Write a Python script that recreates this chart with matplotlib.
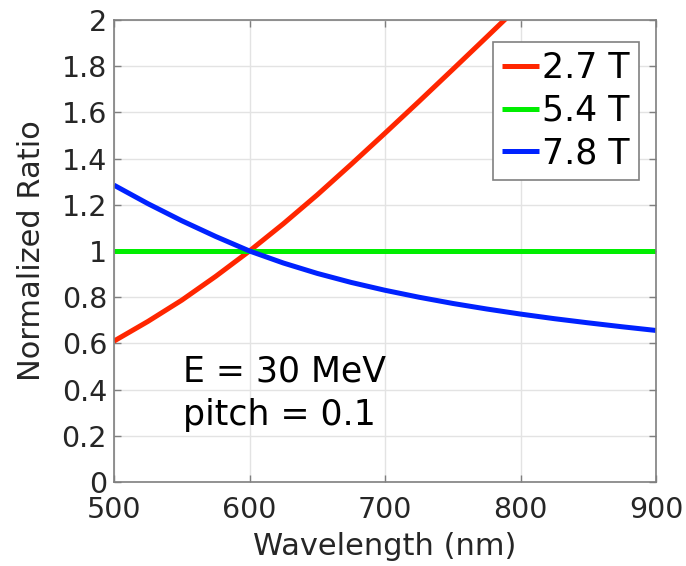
import matplotlib
matplotlib.use("Agg")
import matplotlib.pyplot as plt

# Data
wl_red = [500, 525, 550, 575, 600, 625, 650, 675, 700, 725, 750, 775, 800]
ratio_27T = [0.61, 0.695, 0.787, 0.89, 1.0, 1.118, 1.243, 1.375, 1.51, 1.647, 1.786, 1.926, 2.067]

wl_green = [500, 900]
ratio_54T = [1.0, 1.0]

wl_blue = [500, 525, 550, 575, 600, 625, 650, 675, 700, 725, 750, 775, 800, 825, 850, 875, 900]
ratio_78T = [1.285, 1.205, 1.131, 1.063, 1.0, 0.948, 0.903, 0.864, 0.830, 0.800, 0.773, 0.749,
             0.727, 0.707, 0.689, 0.672, 0.656]

series_labels = ["2.7 T", "5.4 T", "7.8 T"]
x_ticks = [500, 600, 700, 800, 900]
y_ticks = [0, 0.2, 0.4, 0.6, 0.8, 1.0, 1.2, 1.4, 1.6, 1.8, 2.0]
y_tick_labels = ["0", "0.2", "0.4", "0.6", "0.8", "1", "1.2", "1.4", "1.6", "1.8", "2"]
annot_lines = ["E = 30 MeV", "pitch = 0.1"]

W, H = 686, 566
fig = plt.figure(figsize=(W / 100, H / 100), dpi=100)
ax = fig.add_axes([114 / W, 1 - 482 / H, (656 - 114) / W, (482 - 20) / H])

lw = 3.6
ax.plot(wl_red, ratio_27T, color="#ff2600", lw=lw, label=series_labels[0], solid_capstyle="butt")
ax.plot(wl_green, ratio_54T, color="#00ee00", lw=lw, label=series_labels[1], solid_capstyle="butt")
ax.plot(wl_blue, ratio_78T, color="#0022ff", lw=lw, label=series_labels[2], solid_capstyle="butt")

ax.set_xlim(500, 900)
ax.set_ylim(0, 2)
ax.set_xticks(x_ticks)
ax.set_yticks(y_ticks)
ax.set_yticklabels(y_tick_labels)

ax.grid(True, color="#e3e3e3", lw=1.0)
ax.set_axisbelow(True)
for s in ax.spines.values():
    s.set_color("#7f7f7f")
    s.set_linewidth(1.2)
ax.tick_params(direction="in", length=5, width=1, color="#7f7f7f",
               top=True, right=True, labelsize=20.5, labelcolor="#262626")
ax.tick_params(axis="x", pad=10)
ax.tick_params(axis="y", pad=5)

ax.set_xlabel("Wavelength (nm)", fontsize=22, color="#262626", labelpad=6)
ax.set_ylabel("Normalized Ratio", fontsize=22, color="#262626", labelpad=11)

ax.text(551, 0.437, annot_lines[0], fontsize=25, color="black", va="baseline", ha="left")
ax.text(551, 0.247, annot_lines[1], fontsize=25, color="black", va="baseline", ha="left")

leg = ax.legend(loc="upper right", bbox_to_anchor=(639 / W, 1 - 41.7 / H),
                bbox_transform=fig.transFigure, fontsize=25, frameon=True, fancybox=False,
                borderaxespad=0, borderpad=0.27, labelspacing=0.25, handletextpad=0.1,
                handlelength=1.05)
leg.get_frame().set_edgecolor("#808080")
leg.get_frame().set_linewidth(1.2)
leg.get_frame().set_alpha(1)

fig.savefig("out.png", dpi=100)
